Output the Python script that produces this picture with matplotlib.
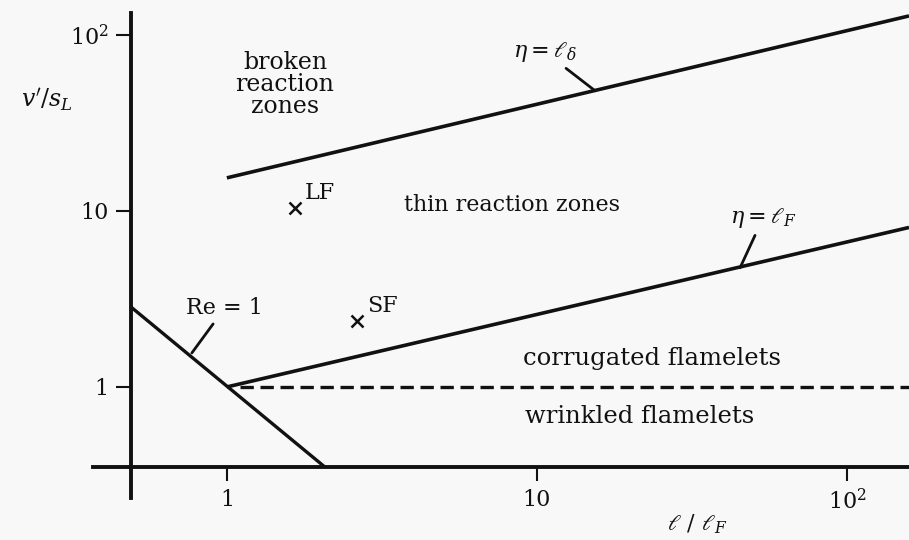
import numpy as np
import matplotlib
matplotlib.use('Agg')
import matplotlib.pyplot as plt

plt.rcParams['font.family'] = ['DejaVu Serif']
plt.rcParams['mathtext.fontset'] = 'dejavuserif'

INK = '#111111'
BG = '#f8f8f8'

# regime boundaries (l/lF, v'/sL)
eta_delta_x = [1.0, 158.5]
eta_delta_y = [15.4, 128.0]
eta_F_x = [1.0, 158.5]
eta_F_y = [1.0, 8.05]
re1_x = [0.49, 2.07]
re1_y = [2.85, 0.351]
corr_x = [1.1, 158.5]
corr_y = [1.0, 1.0]

# flames marked with crosses
flame_names = ['LF', 'SF']
flame_x = [1.66, 2.63]
flame_y = [10.4, 2.37]

regions = ['broken\nreaction\nzones', 'thin reaction zones',
           'corrugated flamelets', 'wrinkled flamelets']
region_x = [1.54, 8.3, 23.5, 21.5]
region_y = [52.0, 10.8, 1.46, 0.675]
region_fs = [17, 16, 17.5, 17.5]

# boundary labels: text, label position, point on the line
line_labels = [r'$\eta = \ell_\delta$', r'$\eta = \ell_F$', 'Re = 1']
line_lab_x = [10.6, 53.6, 0.985]
line_lab_y = [80.0, 9.1, 2.81]
line_pt_x = [15.4, 45.2, 0.771]
line_pt_y = [48.1, 4.75, 1.56]

xticks = [1, 10, 100]
xtick_labels = ['1', '10', r'$10^2$']
yticks = [1, 10, 100]
ytick_labels = ['1', '10', r'$10^2$']

W, H = 909, 540
fig = plt.figure(figsize=(W / 100, H / 100), dpi=100, facecolor=BG)
ax = fig.add_axes([93 / W, 42 / H, 816 / W, 485 / H])
ax.set_facecolor(BG)
ax.set_xscale('log')
ax.set_yscale('log')
ax.set_xlim(0.370, 158.5)
ax.set_ylim(0.234, 133)

for s in ['top', 'right']:
    ax.spines[s].set_visible(False)
ax.spines['left'].set_position(('data', 0.49))
ax.spines['bottom'].set_position(('data', 0.351))
for s in ['left', 'bottom']:
    ax.spines[s].set_linewidth(2.8)
    ax.spines[s].set_color(INK)

ax.set_xticks(xticks)
ax.set_xticklabels(xtick_labels)
ax.set_yticks(yticks)
ax.set_yticklabels(ytick_labels)
ax.minorticks_off()
ax.tick_params(axis='x', direction='out', length=10, width=1.5, pad=6,
               labelsize=16, colors=INK)
ax.tick_params(axis='y', direction='out', length=11, width=1.5, pad=5,
               labelsize=16, colors=INK)

ax.plot(eta_delta_x, eta_delta_y, color=INK, lw=2.6, solid_capstyle='butt')
ax.plot(eta_F_x, eta_F_y, color=INK, lw=2.6, solid_capstyle='butt')
ax.plot(re1_x, re1_y, color=INK, lw=2.4, solid_capstyle='butt')
ax.plot(corr_x, corr_y, color=INK, lw=2.4, linestyle=(0, (4, 2)))

ax.plot(flame_x, flame_y, 'x', color=INK, ms=8, mew=1.8)
for n, x, y in zip(flame_names, flame_x, flame_y):
    ax.annotate(n, (x, y), xytext=(7, 11), textcoords='offset points',
                ha='left', va='center', fontsize=16, color=INK)

for t, x, y, fs in zip(regions, region_x, region_y, region_fs):
    ax.text(x, y, t, ha='center', va='center', fontsize=fs, color=INK,
            linespacing=0.95)

for t, lx, ly, px, py in zip(line_labels, line_lab_x, line_lab_y, line_pt_x, line_pt_y):
    ax.annotate(t, (px, py), xytext=(lx, ly), textcoords='data',
                ha='center', va='center', fontsize=16, color=INK,
                arrowprops=dict(arrowstyle='-', color=INK, lw=2.0,
                                shrinkA=2, shrinkB=0))

fig.text(47 / W, 1 - 100 / H, r"$v'/s_L$", ha='center', va='center',
         fontsize=17, color=INK)
fig.text(697 / W, 1 - 524 / H, r'$\ell\ /\ \ell_F$', ha='center', va='center',
         fontsize=16, color=INK)

fig.savefig('out.png', dpi=100, facecolor=BG)
